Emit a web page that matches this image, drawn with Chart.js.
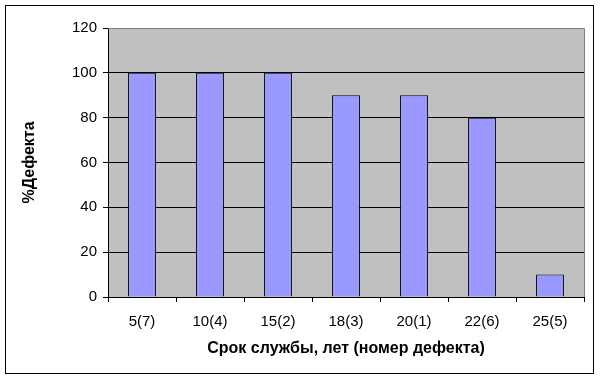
<!DOCTYPE html>
<html><head><meta charset="utf-8">
<script src="https://cdn.jsdelivr.net/npm/chart.js@4/dist/chart.umd.min.js"></script>
<style>html,body{margin:0;padding:0;background:#fff}#wrap{width:600px;height:379px}</style>
</head><body><div id="wrap"><canvas id="c" width="600" height="379"></canvas></div>
<script>
const categories = ["5(7)", "10(4)", "15(2)", "18(3)", "20(1)", "22(6)", "25(5)"];
const defectPercent = [100, 100, 100, 90, 90, 80, 10];
const yTicks = [0, 20, 40, 60, 80, 100, 120];
const xTitle = "Срок службы, лет (номер дефекта)";
const yTitle = "%Дефекта";

const FONT = "'Liberation Sans', Arial, sans-serif";

const decor = {
  id: 'decor',
  beforeDraw(chart) {
    const {ctx, chartArea: a} = chart;
    ctx.save();
    ctx.fillStyle = '#C0C0C0';
    ctx.fillRect(a.left, a.top, a.right - a.left, a.bottom - a.top);
    ctx.restore();
  },
  afterDraw(chart) {
    const {ctx, chartArea: a} = chart;
    ctx.save();
    ctx.strokeStyle = '#808080';
    ctx.lineWidth = 1;
    ctx.beginPath();
    ctx.moveTo(a.left, Math.round(a.top) + 0.5);
    ctx.lineTo(Math.round(a.right) + 0.5, Math.round(a.top) + 0.5);
    ctx.lineTo(Math.round(a.right) + 0.5, a.bottom);
    ctx.stroke();
    ctx.strokeStyle = '#000';
    ctx.strokeRect(5.5, 5.5, 588, 368);
    ctx.restore();
  }
};

new Chart(document.getElementById('c'), {
  type: 'bar',
  data: {
    labels: categories,
    datasets: [{
      data: defectPercent,
      backgroundColor: '#9999FF',
      borderColor: '#000000',
      borderWidth: 1,
      categoryPercentage: 1,
      barPercentage: 0.41
    }]
  },
  options: {
    responsive: false,
    animation: false,
    devicePixelRatio: 1,
    layout: { padding: { left: 0, top: 28, right: 16, bottom: 0 } },
    plugins: { legend: { display: false }, tooltip: { enabled: false } },
    scales: {
      x: {
        afterFit(s) { s.height = 82; },
        grid: { offset: true, drawOnChartArea: false, drawTicks: true, tickLength: 5, color: '#000' },
        border: { color: '#000', width: 1 },
        ticks: { color: '#000', font: { family: FONT, size: 15 }, padding: 11, maxRotation: 0 },
        title: { display: true, text: xTitle, color: '#000', font: { family: FONT, size: 16, weight: 'bold' }, padding: { top: 0, bottom: 21 } }
      },
      y: {
        min: 0, max: 120,
        afterFit(s) { s.width = 108; },
        afterBuildTicks(s) { s.ticks = yTicks.map(v => ({ value: v })); },
        grid: {
          color: c => (c.tick && c.tick.value === 120 ? 'rgba(0,0,0,0)' : '#000'),
          tickColor: '#000',
          tickLength: 5,
          drawTicks: true
        },
        border: { color: '#000', width: 1 },
        ticks: { color: '#000', font: { family: FONT, size: 15 }, padding: 6 },
        title: { display: true, text: yTitle, color: '#000', font: { family: FONT, size: 16, weight: 'bold' }, padding: { top: 20, bottom: 0 } }
      }
    }
  },
  plugins: [decor]
});
</script></body></html>
